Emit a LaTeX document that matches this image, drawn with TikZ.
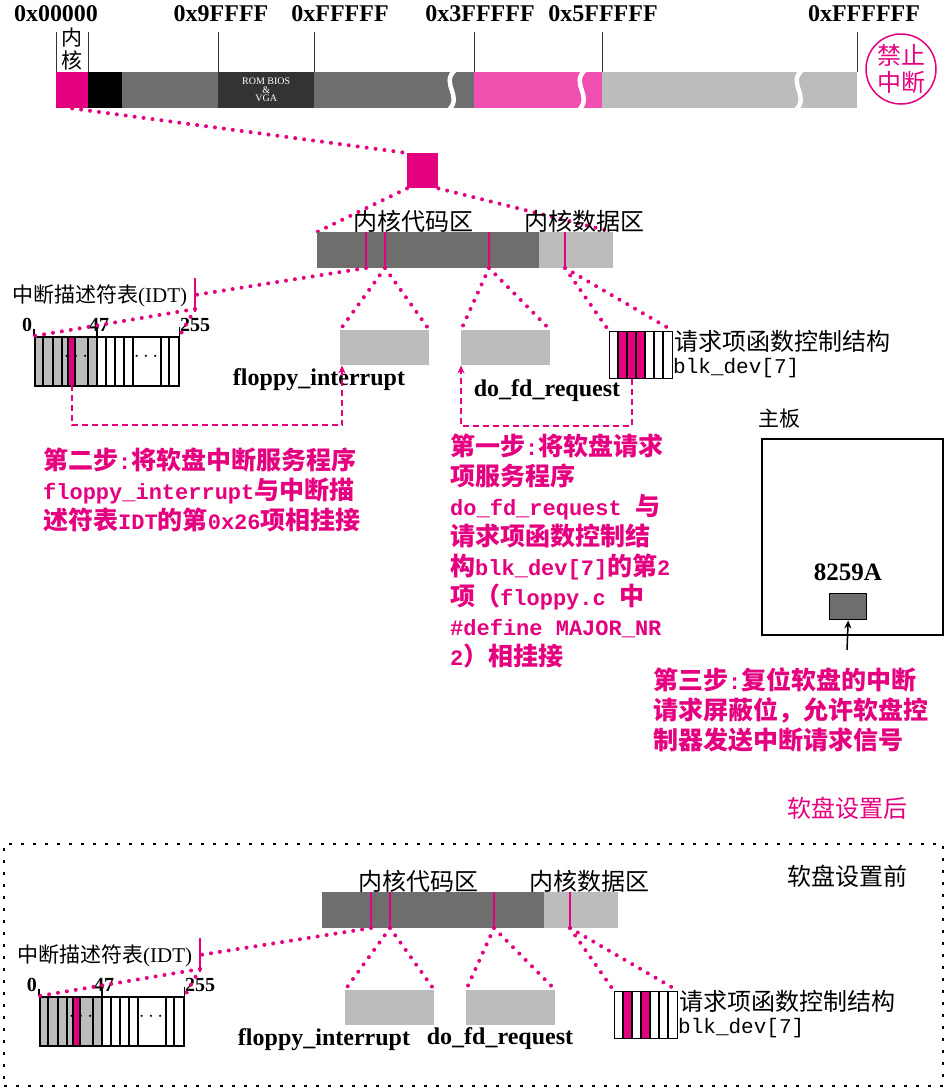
\documentclass[tikz,border=0pt]{standalone}
\usepackage{fontspec}
\setmainfont{Liberation Serif}
\setmonofont{Liberation Mono}
\newfontfamily\cjk{Noto Sans CJK SC}
\usetikzlibrary{arrows.meta}
\definecolor{mag}{HTML}{E4007F}
\definecolor{lpink}{HTML}{F050B0}
\definecolor{dgray}{HTML}{6F6E6E}
\definecolor{rom}{HTML}{353233}
\definecolor{lgray}{HTML}{BCBCBC}
\newcommand\mono[1]{{\ttfamily\fontsize{22}{30}\selectfont #1}}
\tikzset{%
    seg/.style={%
        inner sep=0, minimum height=36, anchor=north west
    },
    entry/.style={draw=mag, line width=1.5pt},
    dotline/.style={%
        draw=mag, line width=4pt, line cap=round, dash pattern=on 0pt off 9pt
    },
    dasharrow/.style={%
        draw=mag, line width=2pt, dash pattern=on 6pt off 4pt,
        -{Stealth[length=8pt, width=7pt]}
    },
    fnbox/.style={%
        fill=lgray, inner sep=0, minimum width=89, minimum height=35, anchor=north west
    },
    cell/.style={draw, line width=1.4pt, inner sep=0, anchor=north west},
    cjklbl/.style={font=\cjk\fontsize{24}{26}\selectfont},
    steptext/.style={%
        text=mag, align=left, anchor=north west, inner sep=0,
        font=\cjk\bfseries\fontsize{25}{30}\selectfont
    },
    addr/.style={font=\bfseries\fontsize{24}{26}\selectfont},
    fnlbl/.style={font=\bfseries\fontsize{24}{26}\selectfont},
    numlbl/.style={font=\bfseries\fontsize{20}{22}\selectfont}
}
% kernel code/data areas with IDT and blk_dev tables
\newcommand\kernpanel[1]{%
    \node[seg, fill=dgray, minimum width=222] (kcode) at (317,232) {};
    \node[seg, fill=lgray, minimum width=74] (kdata) at (539,232) {};
    \node[cjklbl] (codelbl) at (413,221) {内核代码区};
    \node[cjklbl] (datalbl) at (584,221) {内核数据区};
    \foreach \x/\n in {366/idt,385/flp,489/req,565/dev}
        \draw[entry] (\x,232) -- (\x,268) coordinate (e\n);

    \node[font=\fontsize{21}{23}\selectfont, anchor=west, inner sep=0] (idtlbl)
        at (12,296) {{\cjk 中断描述符表}(IDT)};
    \draw[entry] (195,278) -- (195,312);
    \coordinate (idtm) at (195,295);
    \coordinate (idtb) at (195,309);
    \fill[lgray] (34,336) rectangle (97,385);
    \fill[mag] (68,336) rectangle (75,385);
    \foreach \x in {43,53,62,68,75,88,106,115,124,133,161,169}
        \draw[line width=1.2pt] (\x,336) -- (\x,385);
    \node[cell, line width=1.6pt, minimum width=144, minimum height=49] (idt) at (34,336) {};
    \coordinate (idte) at (71.5,385);
    \draw[line width=1.6pt] (97,328) -- (97,385);
    \draw[line width=1.2pt] (idt.north west) -- ++(0,-7);
    \draw[line width=1.2pt] (idt.north east) -- ++(0,-9);
    \node[numlbl] (n0) at (27,325) {0};
    \node[numlbl] (n47) at (99,325) {47};
    \node[numlbl] (n255) at (195,325) {255};
    \node[font=\fontsize{20}{22}\selectfont] (dots1) at (76,357) {$\cdots$};
    \node[font=\fontsize{20}{22}\selectfont] (dots2) at (146,357) {$\cdots$};

    \node[fnbox] (flp) at (340,330) {};
    \node[fnbox] (req) at (461,330) {};
    \node[fnlbl] (flplbl) at (319,380) {floppy\_interrupt};

    \foreach \c in {#1}
        \fill[mag] (600+9*\c,331) rectangle ++(9,47);
    \foreach \x in {618,627,636,645,654,663}
        \draw[line width=1.2pt] (\x,331) -- (\x,378);
    \node[cell, minimum width=63, minimum height=47] (dev) at (609,331) {};
    \node[cjklbl, anchor=west, inner sep=0] (devlbl) at (674,341) {请求项函数控制结构};
    \node[font=\ttfamily\fontsize{21}{23}\selectfont, anchor=west, inner sep=0] (devname)
        at (673,368) {blk\_dev[7]};

    \draw[dotline] (eidt) -- (idtm);
    \draw[dotline] (idtb) -- (idt.north west);
    \draw[dotline] (idtb) -- (idt.north east);
    \draw[dotline] (eflp) -- (flp.north west);
    \draw[dotline] (eflp) -- (flp.north east);
    \draw[dotline] (ereq) -- (req.north west);
    \draw[dotline] (ereq) -- (req.north east);
    \draw[dotline] (edev) -- (dev.north west);
    \draw[dotline] (edev) -- (dev.north east);
}

\begin{document}
\begin{tikzpicture}[x=1pt, y=-1pt]
    \useasboundingbox (0,0) rectangle (944,1088);

    % memory map
    \node[seg, fill=mag, minimum width=32] (kern) at (56,72) {};
    \node[seg, fill=black, minimum width=34] (low) at (88,72) {};
    \node[seg, fill=dgray, minimum width=96] (base) at (122,72) {};
    \node[seg, fill=rom, minimum width=96, text=white, align=center,
        font=\fontsize{10}{8.5}\selectfont] (rom) at (218,72) {ROM BIOS\\\&\\VGA};
    \node[seg, fill=dgray, minimum width=160] (ext) at (314,72) {};
    \node[seg, fill=lpink, minimum width=128] (ramdisk) at (474,72) {};
    \node[seg, fill=lgray, minimum width=255] (high) at (602,72) {};
    \foreach \x in {455,585,802}
        \draw[white, line width=4.5pt] (\x,70) .. controls (\x-15,84) and (\x+8,95) .. (\x-6,110);
    \foreach \x in {56,88,218,314,474,602,857}
        \draw[line width=0.8pt, black!80] (\x,32) -- (\x,72);
    \foreach \x/\t [count=\i] in {56/0x00000,221/0x9FFFF,340/0xFFFFF,480/0x3FFFFF,603/0x5FFFFF,864/0xFFFFFF}
        \node[addr] (addr\i) at (\x,13.5) {\t};
    \node[font=\cjk\fontsize{21}{23}\selectfont, align=center] (kernlbl) at (72,49) {内\\核};
    \node[circle, draw=mag, line width=1.5pt, minimum size=70, inner sep=0, text=mag,
        align=center, font=\cjk\fontsize{24}{27}\selectfont] (nointr) at (901,69) {禁止\\中断};

    \node[fill=mag, inner sep=0, minimum width=31, minimum height=35, anchor=north west] (kmini)
        at (407,153) {};
    \draw[dotline] (kern.south) -- (kmini.north west);
    \draw[dotline] (kmini.south west) -- (317,232);
    \draw[dotline] (kmini.south east) -- (613,232);

    % after floppy setup
    \kernpanel{2,3,4}
    \node[fnlbl] (reqlbl) at (547,391) {do\_fd\_request};
    \draw[dasharrow] (idte) -- ++(0,40) -| ([xshift=2pt]flp.south west);
    \draw[dasharrow] ([xshift=22.5pt]dev.south west) -- ++(0,47) -| (req.south west);

    \node[steptext] (step2) at (43,448) {第二步\mono{:}将软盘中断服务程序\\
        \mono{floppy\_interrupt}与中断描\\
        述符表\mono{IDT}的第\mono{0x26}项相挂接};
    \node[steptext] (step1) at (450,434) {第一步\mono{:}将软盘请求\\
        项服务程序\\
        \mono{do\_fd\_request }与\\
        请求项函数控制结\\
        构\mono{blk\_dev[7]}的第\mono{2}\\
        项（\mono{floppy.c }中\\
        \mono{\#define MAJOR\_NR}\\
        \mono{2}）相挂接};

    \node[font=\cjk\fontsize{21}{23}\selectfont] (boardlbl) at (779,419) {主板};
    \node[draw, line width=1.6pt, inner sep=0, minimum width=181, minimum height=196,
        anchor=north west] (board) at (761,438) {};
    \node[font=\bfseries\fontsize{25}{27}\selectfont] (piclbl) at (848,572) {8259A};
    \node[draw, fill=dgray, line width=1.4pt, inner sep=0, minimum width=37,
        minimum height=26, anchor=north west] (pic) at (829,593) {};
    \coordinate (picin) at (847,650);
    \draw[line width=1.5pt, -{Stealth[length=8pt, width=7pt]}] (picin) -- (pic.south);
    \node[steptext] (step3) at (653,667) {第三步\mono{:}复位软盘的中断\\
        请求屏蔽位，允许软盘控\\
        制器发送中断请求信号};

    \node[cjklbl, text=mag] (afterlbl) at (847,808) {软盘设置后};

    % before floppy setup
    \node[draw, line width=2.4pt, dash pattern=on 3pt off 9pt, inner sep=0,
        minimum width=939, minimum height=242, anchor=north west] (before) at (3,843) {};
    \node[cjklbl] (beforelbl) at (847,876) {软盘设置前};
    \begin{scope}[shift={(5,660)}, name prefix=b-]
        \kernpanel{2,4}
        \node[fnlbl] (reqlbl) at (495,379) {do\_fd\_request};
    \end{scope}
\end{tikzpicture}
\end{document}
